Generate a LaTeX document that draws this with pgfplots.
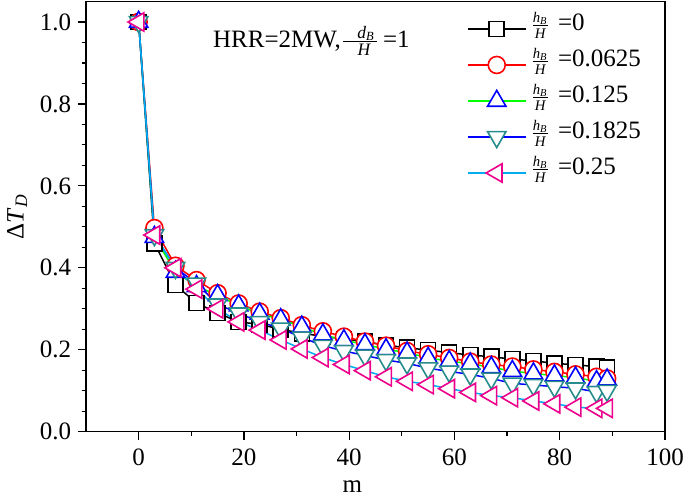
\documentclass[border=0pt]{standalone}
\usepackage{amsmath}
\usepackage{fontspec}
\setmainfont{Liberation Serif}
\usepackage{pgfplots}
\pgfplotsset{compat=1.18}
\definecolor{tealm}{RGB}{40,140,140}

\pgfplotstableread{
x y
0 1.0
3 0.46
7 0.358
11 0.314
15 0.29
19 0.268
23 0.262
27 0.25
31 0.24
35 0.233
39 0.226
43 0.22
47 0.211
51 0.205
55 0.199
59 0.193
63 0.187
67 0.183
71 0.177
75 0.173
79 0.167
83 0.163
87 0.159
89 0.157
}\dataA
\pgfplotstableread{
x y
0 1.0
3 0.497
7 0.405
11 0.37
15 0.338
19 0.313
23 0.293
27 0.277
31 0.26
35 0.245
39 0.232
43 0.22
47 0.21
51 0.197
55 0.189
59 0.18
63 0.171
67 0.164
71 0.159
75 0.152
79 0.146
83 0.14
87 0.134
89 0.13
}\dataB
\pgfplotstableread{
x y
0 1.0
3 0.475
7 0.39
11 0.355
15 0.333
19 0.308
23 0.288
27 0.274
31 0.256
35 0.237
39 0.223
43 0.213
47 0.201
51 0.193
55 0.18
59 0.172
63 0.166
67 0.157
71 0.148
75 0.142
79 0.137
83 0.132
87 0.123
89 0.127
}\dataC
\pgfplotstableread{
x y
0 1.0
3 0.48
7 0.40
11 0.362
15 0.311
19 0.289
23 0.268
27 0.252
31 0.23
35 0.21
39 0.197
43 0.186
47 0.175
51 0.167
55 0.155
59 0.147
63 0.14
67 0.13
71 0.118
75 0.114
79 0.11
83 0.106
87 0.097
89 0.1
}\dataD
\pgfplotstableread{
x y
0 1.0
3 0.48
7 0.40
11 0.348
15 0.30
19 0.268
23 0.248
27 0.224
31 0.202
35 0.181
39 0.164
43 0.149
47 0.134
51 0.123
55 0.115
59 0.105
63 0.096
67 0.088
71 0.083
75 0.075
79 0.068
83 0.06
87 0.057
89 0.057
}\dataE

\newcommand{\hfr}{{\fontsize{10.5bp}{12bp}\selectfont$\frac{\textit{h}_{\textit{B}}}{\textit{H}}$}\hspace{4bp}}

\begin{document}
\fontsize{12.5bp}{15bp}\selectfont
\begin{tikzpicture}
\begin{axis}[
  scale only axis, width=289.5bp, height=215.1bp,
  xmin=-10, xmax=100, ymin=0, ymax=1.05,
  xtick={0,20,40,60,80,100}, ytick={0,0.2,0.4,0.6,0.8,1.0},
  minor x tick num=1, minor y tick num=3,
  tick align=outside, xtick pos=left, ytick pos=left,
  major tick length=4bp, minor tick length=2bp,
  every tick/.style={black, line width=0.6bp},
  axis line style={line width=0.75bp},
  /pgf/number format/assume math mode=true,
  yticklabel style={inner sep=0pt, xshift=-3.3bp, /pgf/number format/.cd, fixed, fixed zerofill, precision=1},
  xticklabel style={inner sep=0pt, yshift=-4.3bp},
  xlabel={m},
  ylabel={Δ\textit{T}$_{\textit{D}}$},
  x label style={at={(axis description cs:0.46,-0.142)}, anchor=base},
  y label style={at={(axis description cs:-0.119,0.5)}, anchor=center},
  legend image code/.code={\draw[mark repeat=2,mark phase=2,#1] plot coordinates {(0bp,0bp) (14.5bp,0bp) (29bp,0bp)};},
  legend style={at={(rel axis cs:0.658,0.978)}, anchor=north west, draw=none, fill=none,
    inner sep=0pt, outer sep=0pt, row sep=0pt,
    nodes={inner sep=2bp, text height=8bp, text depth=6bp}},
  legend cell align=left,
]
\coordinate (SW) at (rel axis cs:0,0);
\coordinate (NE) at (rel axis cs:1,1);
\addplot[black, line width=0.75bp, mark=square*, mark size=3.75bp, mark options={solid, line width=0.8bp, draw=black, fill=white}] table {\dataA};
\addlegendentry{\hfr=0}
\addplot[red, line width=0.75bp, mark=*, mark size=4.25bp, mark options={solid, line width=0.8bp, draw=red, fill=white}] table {\dataB};
\addlegendentry{\hfr=0.0625}
\addplot[green, line width=0.75bp, mark=triangle*, mark size=5.3bp, mark options={solid, line width=0.8bp, draw=blue, fill=white}] table {\dataC};
\addlegendentry{\hfr=0.125}
\addplot[blue, line width=0.75bp, mark=triangle*, mark size=5.3bp, mark options={solid, line width=0.8bp, draw=tealm, fill=white, rotate=180}] table {\dataD};
\addlegendentry{\hfr=0.1825}
\addplot[cyan, line width=0.75bp, mark=triangle*, mark size=5.3bp, mark options={solid, line width=0.8bp, draw=magenta, fill=white, rotate=90}] table {\dataE};
\addlegendentry{\hfr=0.25}
\node[anchor=base west, inner sep=0pt] at (rel axis cs:0.219,0.893) {HRR=2MW,$\frac{\hspace{7bp}\textit{d}_{\textit{B}}\hspace{1bp}}{\hspace{4bp}\textit{H}}$\hspace{2bp}=1};
\end{axis}
\pgfresetboundingbox
\path ([shift={(-43bp,-32.15bp)}]SW) rectangle ([shift={(10bp,0.75bp)}]NE);
\end{tikzpicture}
\end{document}
